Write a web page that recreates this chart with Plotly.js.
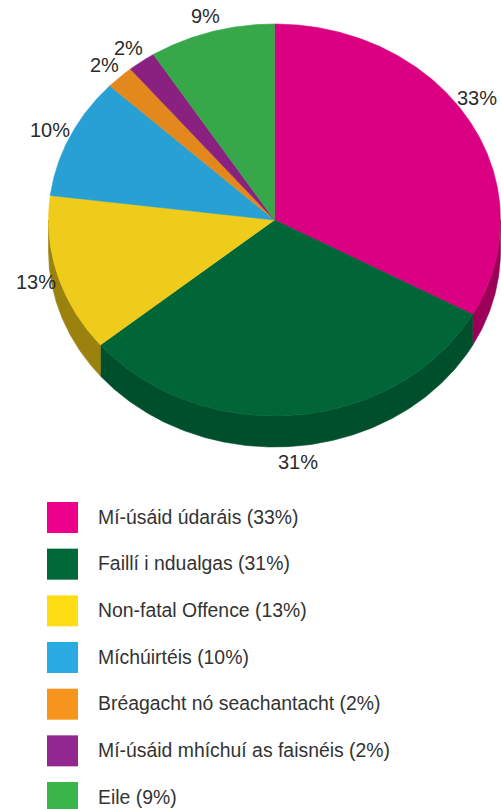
<!DOCTYPE html>
<html>
<head>
<meta charset="utf-8">
<script src="https://cdn.plot.ly/plotly-3.0.1.min.js"></script>
<style>html,body{margin:0;padding:0;background:#fff;}#chart{width:501px;height:809px;}</style>
</head>
<body>
<div id="chart"></div>
<script>
// ---- data ----
const categories = ['Mí-úsáid údaráis', 'Faillí i ndualgas', 'Non-fatal Offence', 'Míchúirtéis', 'Bréagacht nó seachantacht', 'Mí-úsáid mhíchuí as faisnéis', 'Eile'];
const values = [33, 31, 13, 10, 2, 2, 9];
const topColors = ['#db0081', '#006637', '#efcb1c', '#28a0d3', '#e3881c', '#8a2181', '#37a84a'];
const sideColors = ['#9d0059', '#004f2c', '#9b810d', '#1a6e93', '#9c5d12', '#5e1659', '#25743a'];
const legendColors = ['#ec008c', '#006838', '#ffdd15', '#29abe2', '#f7941d', '#92278f', '#39b54a'];

// ---- geometry (pixel-unit axes) ----
const W = 501, H = 809;
const cx = 274.5, cy = 220, rx = 226, ry = 196, depth = 31;
const total = values.reduce((a, b) => a + b, 0);
const rad = d => d * Math.PI / 180;
const ex = t => cx + rx * Math.sin(rad(t));
const ey = t => cy - ry * Math.cos(rad(t));

function arc(a, b, dy) {
  const xs = [], ys = [];
  const n = Math.max(2, Math.ceil(Math.abs(b - a) / 0.5));
  for (let i = 0; i <= n; i++) {
    const t = a + (b - a) * i / n;
    xs.push(ex(t)); ys.push(ey(t) + dy);
  }
  return [xs, ys];
}

const traces = [];
const starts = [];
let acc = 0;
values.forEach(v => { starts.push(acc / total * 360); acc += v; });
const ends = values.map((v, i) => starts[i] + v / total * 360);

// side walls (front half only: 90..270 deg)
values.forEach((v, i) => {
  const a = Math.max(starts[i], 90), b = Math.min(ends[i], 270);
  if (a >= b) return;
  const [tx, ty] = arc(a, b, 0);
  const [bx, by] = arc(b, a, depth);
  traces.push({
    type: 'scatter', mode: 'lines', x: tx.concat(bx, [tx[0]]), y: ty.concat(by, [ty[0]]),
    fill: 'toself', fillcolor: sideColors[i], line: {color: sideColors[i], width: 0.6},
    hoverinfo: 'skip', showlegend: false
  });
});

// top faces
values.forEach((v, i) => {
  const [tx, ty] = arc(starts[i], ends[i], 0);
  traces.push({
    type: 'scatter', mode: 'lines', x: [cx].concat(tx, [cx]), y: [cy].concat(ty, [cy]),
    fill: 'toself', fillcolor: topColors[i], line: {color: topColors[i], width: 0.6},
    hoverinfo: 'skip', showlegend: false
  });
});

// legend swatches
const legX = 62.5, legY0 = 517.5, legStep = 46.67;
traces.push({
  type: 'scatter', mode: 'markers',
  x: categories.map(() => legX),
  y: categories.map((c, i) => legY0 + i * legStep),
  marker: {symbol: 'square', size: 31, color: legendColors, line: {width: 0}},
  hoverinfo: 'skip', showlegend: false
});

const annotations = [];
const font = 'Liberation Sans, Arial, sans-serif';
const labelSize = 20;
const Lx = rx + 22, Ly = ry + 16;
// slice percentage labels: placed on an outer ellipse, slid toward the top if they would leave the page
values.forEach((v, i) => {
  const txt = Math.round(v / total * 100) + '%';
  const hw = ((txt.length - 1) * 0.556 + 0.889) * labelSize / 2;
  let m = (starts[i] + ends[i]) / 2;
  let s = Math.sin(rad(m));
  const maxS = (W - 4 - hw - cx) / Lx, minS = (4 + hw - cx) / Lx;
  if (s > maxS) { const c0 = Math.cos(rad(m)); m = c0 >= 0 ? Math.asin(maxS) * 180 / Math.PI : 180 - Math.asin(maxS) * 180 / Math.PI; }
  if (s < minS) { const c0 = Math.cos(rad(m)); m = c0 >= 0 ? 360 + Math.asin(minS) * 180 / Math.PI : 180 - Math.asin(minS) * 180 / Math.PI; }
  s = Math.sin(rad(m));
  const c = Math.cos(rad(m));
  const lx = cx + s * Lx;
  const ly = cy - c * Ly + (c < 0 ? depth * c * c : 0);
  annotations.push({
    x: lx, y: ly, xref: 'x', yref: 'y', text: txt,
    showarrow: false, xanchor: 'center', yanchor: 'middle',
    font: {family: font, size: labelSize, color: '#2b2b2b'}
  });
});
// legend texts
categories.forEach((c, i) => {
  annotations.push({
    x: 96, y: legY0 + i * legStep - 1, xref: 'x', yref: 'y',
    text: c + ' (' + Math.round(values[i] / total * 100) + '%)',
    showarrow: false, xanchor: 'left', yanchor: 'middle',
    font: {family: font, size: 19.4, color: '#333333'}
  });
});

const layout = {
  width: W, height: H,
  margin: {l: 0, r: 0, t: 0, b: 0, pad: 0},
  paper_bgcolor: '#ffffff', plot_bgcolor: '#ffffff',
  xaxis: {range: [0, W], visible: false, fixedrange: true},
  yaxis: {range: [H, 0], visible: false, fixedrange: true},
  showlegend: false,
  annotations: annotations,
  font: {family: font}
};

Plotly.newPlot('chart', traces, layout, {displayModeBar: false, staticPlot: true});
</script>
</body>
</html>
